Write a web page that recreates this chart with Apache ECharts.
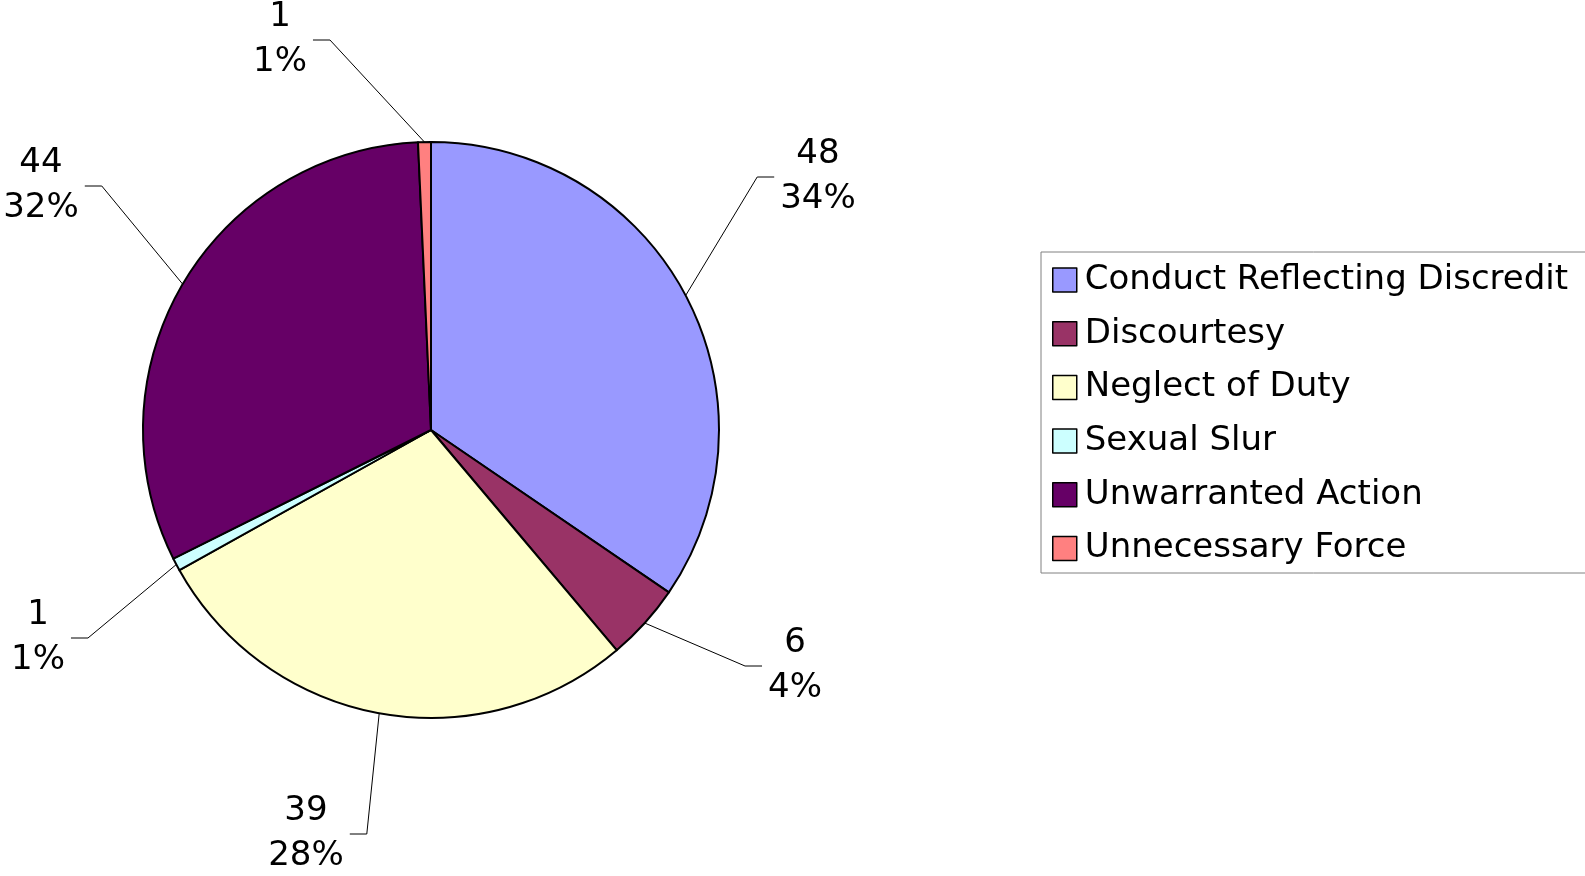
<!DOCTYPE html>
<html>
<head>
<meta charset="utf-8">
<script src="https://cdn.jsdelivr.net/npm/echarts@6/dist/echarts.min.js"></script>
<style>
  html, body { margin: 0; padding: 0; background: #fff; }
  #chart { width: 1585px; height: 876px; }
</style>
</head>
<body>
<div id="chart"></div>
<script>
const categories = [
    'Conduct Reflecting Discredit',
    'Discourtesy',
    'Neglect of Duty',
    'Sexual Slur',
    'Unwarranted Action',
    'Unnecessary Force'
];
const counts = [48, 6, 39, 1, 44, 1];
const sliceColors = ['#9999FF', '#993366', '#FFFFCC', '#CCFFFF', '#660066', '#FF8080'];

// where each two-line label block sits (centre of block), Excel style
const labelSpots = [[818, 177], [795, 666], [306, 834], [38, 638], [41, 186], [280, 40]];

const pieCenter = [431, 430];
const fontFamily = '"DejaVu Sans", sans-serif';

const chart = echarts.init(document.getElementById('chart'), null, { renderer: 'canvas' });

chart.setOption({
    animation: false,
    backgroundColor: '#fff',
    legend: {
        orient: 'vertical',
        left: 1041,
        top: 252,
        padding: [9.5, 60, 6, 11],
        itemGap: 16.7,
        itemWidth: 24,
        itemHeight: 24,
        icon: 'rect',
        borderColor: '#808080',
        borderWidth: 1,
        selectedMode: false,
        itemStyle: { borderColor: '#000', borderWidth: 1.5 },
        textStyle: { fontFamily, fontSize: 34, lineHeight: 37, color: '#000', padding: [0, 0, 0, 3] },
        data: categories
    },
    series: [{
        type: 'pie',
        center: pieCenter,
        radius: 288,
        startAngle: 90,
        clockwise: true,
        avoidLabelOverlap: false,
        percentPrecision: 0,
        emphasis: { disabled: true },
        itemStyle: { borderColor: '#000', borderWidth: 2 },
        label: {
            show: true,
            position: 'outside',
            formatter: '{c}\n{d}%',
            fontFamily,
            fontSize: 34,
            lineHeight: 45,
            color: '#000'
        },
        labelLine: {
            show: true,
            length: 20,
            length2: 20,
            lineStyle: { color: '#000', width: 1 }
        },
        labelLayout: (params) => {
            const spot = labelSpots[params.dataIndex];
            const start = params.labelLinePoints[0];
            const half = params.labelRect.width / 2;
            const dir = spot[0] > pieCenter[0] ? -1 : 1;
            const endX = spot[0] + dir * (half + 6);
            const elbowX = endX + dir * 17;
            return {
                x: spot[0],
                y: spot[1],
                align: 'center',
                verticalAlign: 'middle',
                labelLinePoints: [start, [elbowX, spot[1]], [endX, spot[1]]]
            };
        },
        data: categories.map((name, i) => ({
            name,
            value: counts[i],
            itemStyle: { color: sliceColors[i] }
        }))
    }]
});
</script>
</body>
</html>
